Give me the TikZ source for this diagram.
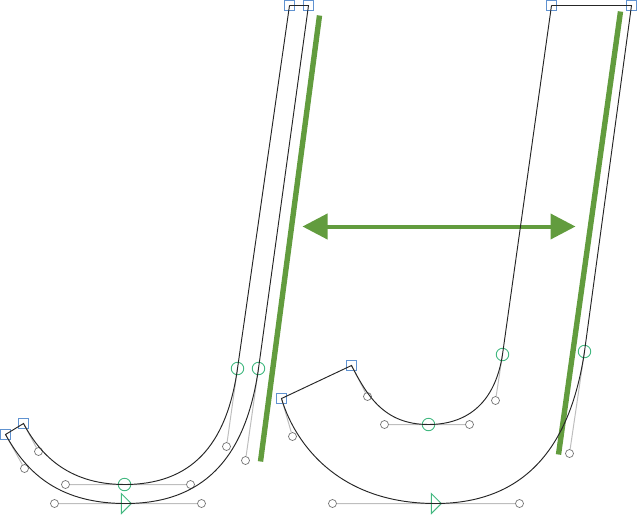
\documentclass[tikz,border=0pt]{standalone}
\usepackage{tikz}
\usetikzlibrary{arrows.meta}
\usetikzlibrary{shapes.geometric}
\definecolor{myblue}{RGB}{96,146,208}
\definecolor{mygreen}{RGB}{98,156,62}
\definecolor{mymint}{RGB}{66,184,128}
\definecolor{myhandle}{RGB}{190,190,190}
\tikzset{corner node/.style={rectangle,draw=myblue,line width=0.9pt,minimum size=9.5pt,inner sep=0pt},}
\tikzset{smooth node/.style={circle,draw=mymint,line width=0.9pt,minimum size=12.5pt,inner sep=0pt},}
\tikzset{start node/.style={isosceles triangle,isosceles triangle apex angle=90,isosceles triangle stretches,draw=mymint,line width=0.9pt,minimum width=20pt,minimum height=10pt,inner sep=0pt},}
\tikzset{handle node/.style={circle,draw=black!55,line width=0.7pt,minimum size=8pt,inner sep=0pt},}
\tikzset{handle line/.style={draw=myhandle,line width=1pt},}
\tikzset{outline/.style={draw=black!85,line width=0.95pt},}
\tikzset{guide/.style={draw=mygreen,line width=5.4pt},}

\begin{document}
\begin{tikzpicture}[x=1pt,y=-1pt]
	\useasboundingbox (-0.5,-0.5) rectangle (637.5,514.5);

	% left glyph
	\node[corner node] (a) at (5,434) {};
	\node[corner node] (b) at (23,423) {};
	\node[corner node] (c) at (289,5) {};
	\node[corner node] (d) at (308,5) {};
	\node[smooth node] (e) at (237,368) {};
	\node[smooth node] (f) at (258,368) {};
	\node[smooth node] (g) at (124,484) {};
	\node[start node] (h) at (125,503) {};
	\node[handle node] (a1) at (24,468) {};
	\node[handle node] (b1) at (38,451) {};
	\node[handle node] (e1) at (226,446) {};
	\node[handle node] (f1) at (245,460) {};
	\node[handle node] (g1) at (65,484) {};
	\node[handle node] (g2) at (190,484) {};
	\node[handle node] (h1) at (54,503) {};
	\node[handle node] (h2) at (201,503) {};

	% right glyph
	\node[corner node] (p) at (281,398) {};
	\node[corner node] (q) at (351,365) {};
	\node[corner node] (r) at (551,5) {};
	\node[corner node] (s) at (631,5) {};
	\node[smooth node] (t) at (502,354) {};
	\node[smooth node] (u) at (584,351) {};
	\node[smooth node] (v) at (428,424) {};
	\node[start node] (w) at (435,503) {};
	\node[handle node] (p1) at (292,436) {};
	\node[handle node] (q1) at (367,396) {};
	\node[handle node] (t1) at (495,400) {};
	\node[handle node] (u1) at (569,453) {};
	\node[handle node] (v1) at (384,424) {};
	\node[handle node] (v2) at (469,424) {};
	\node[handle node] (w1) at (332,503) {};
	\node[handle node] (w2) at (519,503) {};

	% handles
	\path[handle line]
	(a.center) -- (a1)
	(b.center) -- (b1)
	(e.center) -- (e1)
	(f.center) -- (f1)
	(g1) -- (g2)
	(h1) -- (h2)
	(p.center) -- (p1)
	(q.center) -- (q1)
	(t.center) -- (t1)
	(u.center) -- (u1)
	(v1) -- (v2)
	(w1) -- (w2);

	% guides and arrow
	\coordinate (m1) at (319,15);
	\coordinate (m2) at (260,461);
	\coordinate (n1) at (620,11);
	\coordinate (n2) at (558,454);
	\coordinate (x1) at (302,226);
	\coordinate (x2) at (575,226);
	\path[guide] (m1) -- (m2);
	\path[guide] (n1) -- (n2);
	\path[draw=mygreen,line width=4pt,{Triangle[length=25pt,width=25pt]}-{Triangle[length=25pt,width=25pt]}] (x1) -- (x2);

	% outlines
	\path[outline]
	(c.center) -- (d.center) -- (f.center)
	.. controls (f1.center) and (h2.center) .. (125,503)
	.. controls (h1.center) and (a1.center) .. (a.center)
	-- (b.center)
	.. controls (b1.center) and (g1.center) .. (g.center)
	.. controls (g2.center) and (e1.center) .. (e.center)
	-- (c.center);
	\path[outline]
	(r.center) -- (s.center) -- (u.center)
	.. controls (u1.center) and (w2.center) .. (435,503)
	.. controls (w1.center) and (p1.center) .. (p.center)
	-- (q.center)
	.. controls (q1.center) and (v1.center) .. (v.center)
	.. controls (v2.center) and (t1.center) .. (t.center)
	-- (r.center);
\end{tikzpicture}
\end{document}
